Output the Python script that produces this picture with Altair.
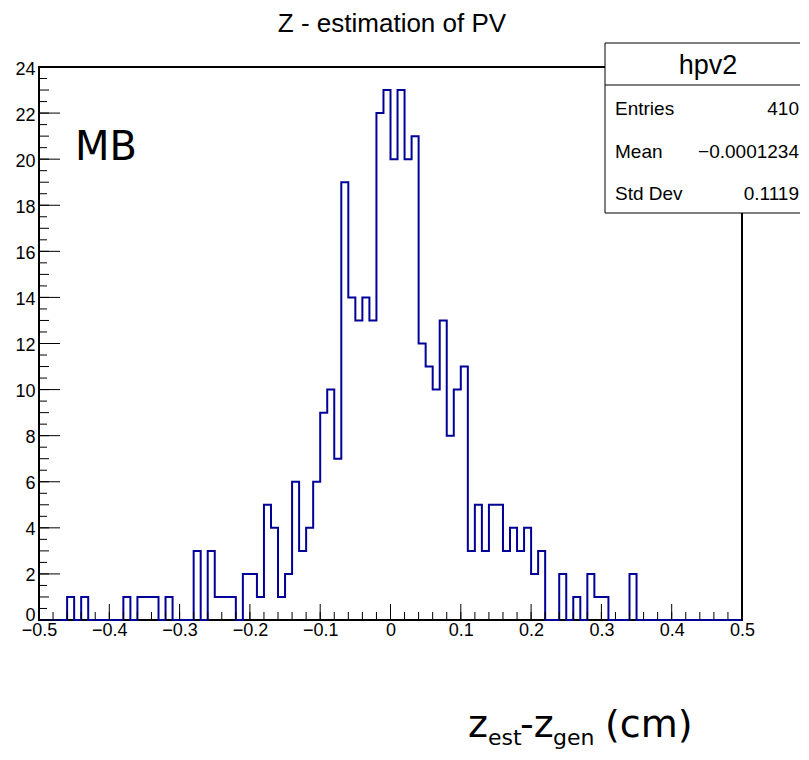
import altair as alt
import pandas as pd

# ---- data ----
bin_width = 0.01
n_bins = 100
bin_left = [round(-0.5 + bin_width * i, 2) for i in range(n_bins)]
counts = [
    0, 0, 0, 0, 1, 0, 1, 0, 0, 0,
    0, 0, 1, 0, 1, 1, 1, 0, 1, 0,
    0, 0, 3, 0, 3, 1, 1, 1, 0, 2,
    2, 1, 5, 4, 1, 2, 6, 3, 4, 6,
    9, 10, 7, 19, 14, 13, 14, 13, 22, 23,
    20, 23, 20, 21, 12, 11, 10, 13, 8, 10,
    11, 3, 5, 3, 5, 5, 3, 4, 3, 4,
    2, 3, 0, 0, 2, 0, 1, 0, 2, 1,
    1, 0, 0, 0, 2, 0, 0, 0, 0, 0,
    0, 0, 0, 0, 0, 0, 0, 0, 0, 0,
]
x_major = [-0.5, -0.4, -0.3, -0.2, -0.1, 0.0, 0.1, 0.2, 0.3, 0.4, 0.5]
x_minor = [round(-0.5 + 0.02 * i, 2) for i in range(51)]
y_major = [0, 2, 4, 6, 8, 10, 12, 14, 16, 18, 20, 22, 24]
y_mid = list(range(0, 25))
y_minor = [i + 0.5 for i in range(24)]

title_text = "Z - estimation of PV"
stat_name = "hpv2"
stat_labels = ["Entries", "Mean", "Std Dev"]
stat_values = ["410", "\u22120.0001234", "0.1119"]
tag_text = "MB"

W, H = 703, 553
SANS = "Liberation Sans"
DV = "DejaVu Sans"

hist_df = pd.DataFrame({"x": bin_left + [0.5], "y": counts + [counts[-1]]})

xscale = alt.Scale(domain=[-0.5, 0.5], nice=False, zero=False)
yscale = alt.Scale(domain=[0, 24], nice=False, zero=True)

xaxis = alt.Axis(
    values=x_major, labelExpr="datum.value == 0 ? '0' : format(datum.value, '.1f')",
    tickSize=0, domain=False, grid=False, title=None, labelFont=SANS, labelFontSize=18,
    labelColor="black", labelPadding=1, labelFlush=False, labelOverlap=False, labelBound=False,
)
yaxis = alt.Axis(
    values=y_major, format="d", tickSize=0, domain=False, grid=False, title=None,
    labelFont=SANS, labelFontSize=18, labelColor="black", labelPadding=4,
    labelOverlap=False, labelBound=False, labelFlush=False,
    labelOffset={"condition": {"test": "datum.value == 0", "value": -5}, "value": 2},
)

hist = alt.Chart(hist_df).mark_line(
    interpolate="step-after", color="#000099", strokeWidth=2
).encode(
    x=alt.X("x:Q", scale=xscale, axis=xaxis),
    y=alt.Y("y:Q", scale=yscale, axis=yaxis),
)


def xticks(vals, length):
    return alt.Chart(pd.DataFrame({"x": vals})).mark_rule(color="black", strokeWidth=1).encode(
        x=alt.X("x:Q", scale=xscale, axis=xaxis), y=alt.value(H), y2=alt.value(H - length)
    )


def yticks(vals, length):
    return alt.Chart(pd.DataFrame({"y": vals})).mark_rule(color="black", strokeWidth=1).encode(
        y=alt.Y("y:Q", scale=yscale, axis=yaxis), x=alt.value(0), x2=alt.value(length)
    )


one = pd.DataFrame({"a": [0]})


def label(text, x, y, size, font=SANS, align="left", baseline="alphabetic"):
    return alt.Chart(one).mark_text(
        font=font, fontSize=size, align=align, baseline=baseline, color="black"
    ).encode(x=alt.value(x), y=alt.value(y), text=alt.value(text))


box = alt.Chart(one).mark_rect(fill="white", stroke="black", strokeWidth=1).encode(
    x=alt.value(566), x2=alt.value(800), y=alt.value(-24), y2=alt.value(146)
)
box_line = alt.Chart(one).mark_rule(color="black", strokeWidth=1).encode(
    x=alt.value(566), x2=alt.value(800), y=alt.value(18)
)

layers = [
    hist,
    xticks(x_minor, 8),
    xticks(x_major, 16),
    yticks(y_minor, 8),
    yticks(y_mid, 10),
    yticks(y_major, 21),
    box,
    box_line,
    label(stat_name, 669, 7, 27, align="center"),
]
for i, (lab, val) in enumerate(zip(stat_labels, stat_values)):
    yb = 48 + 42.5 * i
    layers.append(label(lab, 576, yb, 19))
    layers.append(label(val, 760, yb, 19, align="right"))

layers += [
    label(title_text, 353, -35, 26, align="center"),
    label(tag_text, 36, 93, 40, font=DV),
    # x-axis title: z_est - z_gen (cm)
    label("z", 429, 670, 38, font=DV),
    label("est", 449, 678, 22, font=DV),
    label("-z", 481, 670, 38, font=DV),
    label("gen", 514, 678, 22, font=DV),
    label("(cm)", 566, 670, 38, font=DV),
]

chart = alt.layer(*layers).properties(
    width=W, height=H,
    autosize=alt.AutoSizeParams(type="none"),
    padding={"left": 31, "top": 59, "right": 58, "bottom": 131},
    background="white",
).configure_view(stroke="black", strokeWidth=2)

chart.save("out.html", embed_options={"renderer": "svg", "actions": False})
